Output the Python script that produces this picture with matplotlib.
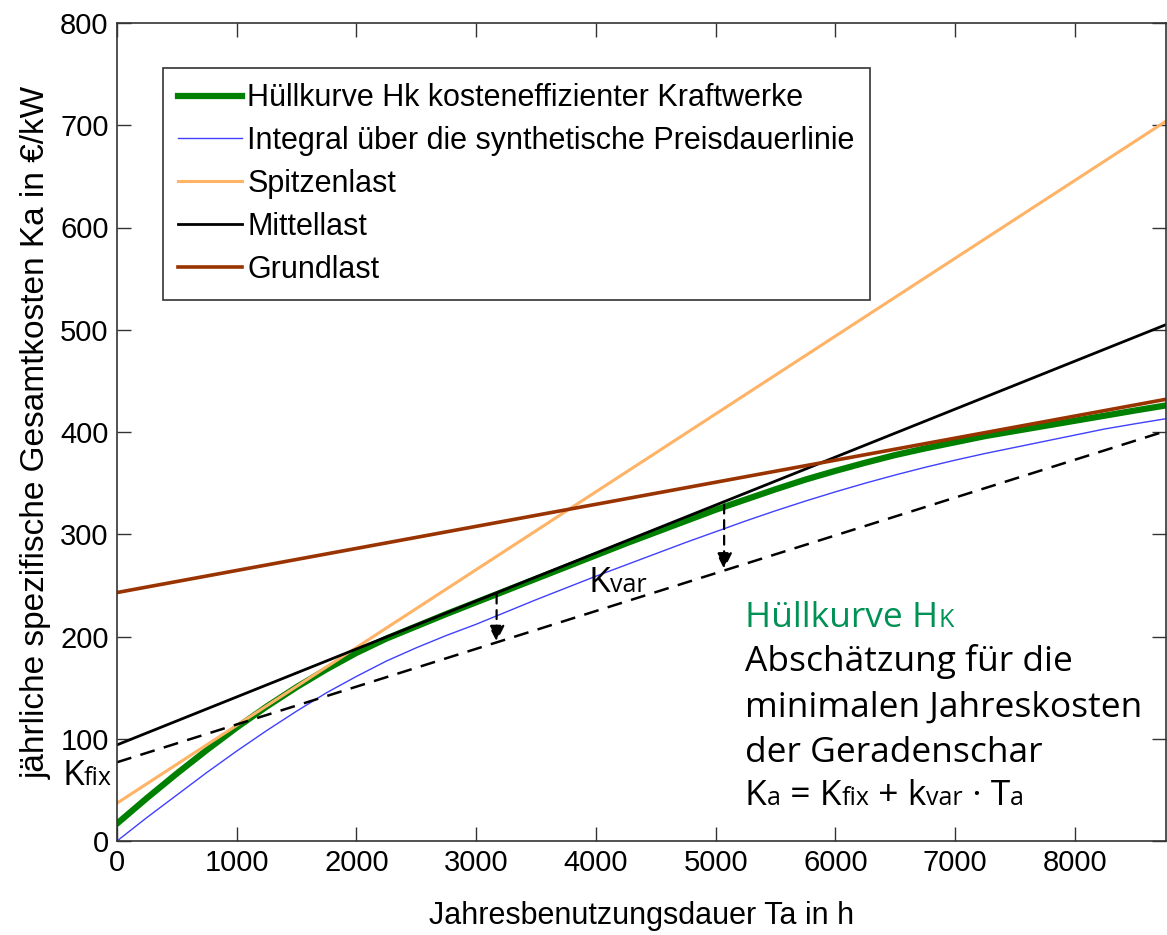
import matplotlib
matplotlib.use("Agg")
import matplotlib.pyplot as plt
import matplotlib.transforms as mtransforms

W, H = 1167, 935
DPI = 100

# ---------------- data ----------------
T_lines = [0, 8760]
spitzenlast = [37, 704]
mittellast = [94, 505]
grundlast = [243, 432]
schar_dashed = [77, 401]

T_curve = [0, 250, 500, 750, 1000, 1250, 1500, 1750, 2000, 2250, 2500, 2750,
           3000, 3250, 3500, 3750, 4000, 4250, 4500, 4750, 5000, 5250, 5500,
           5750, 6000, 6250, 6500, 6750, 7000, 7250, 7500, 7750, 8000, 8250,
           8500, 8760]
huellkurve = [17, 42, 66, 89, 111, 131.5, 150.5, 168, 184, 198, 210, 222,
              233.5, 245, 256.5, 268, 279.5, 291, 302, 313, 324, 334, 344,
              353.5, 362, 370, 377.5, 384, 390, 396, 401, 406, 411, 416,
              421, 426]
integral = [0, 23, 45, 67, 88, 108, 127, 145, 161, 176, 189, 201,
            212, 224, 236, 247.5, 259, 270, 281, 292, 302.5, 313, 323,
            332.5, 341.5, 350, 358, 365.5, 372.5, 379, 385, 391, 397, 403,
            408, 413]

arrow_T = [3170, 5070]
arrow_top = [241, 329]
arrow_tip = [195, 266]

labels = ["Hüllkurve Hk kosteneffizienter Kraftwerke",
          "Integral über die synthetische Preisdauerlinie",
          "Spitzenlast", "Mittellast", "Grundlast"]
xticks = [0, 1000, 2000, 3000, 4000, 5000, 6000, 7000, 8000]
yticks = [0, 100, 200, 300, 400, 500, 600, 700, 800]

# ---------------- figure ----------------
fig = plt.figure(figsize=(W / DPI, H / DPI), dpi=DPI)
ax = fig.add_axes([117 / W, (H - 841) / H, (1166 - 117) / W, (841 - 23) / H])

ax.plot(T_curve, huellkurve, color=(0, 0.5, 0), lw=4.5, label=labels[0])
ax.plot(T_curve, integral, color=(0.25, 0.25, 1.0), lw=1.0, label=labels[1])
ax.plot(T_lines, spitzenlast, color=(1.0, 0.7, 0.4), lw=2.2, label=labels[2])
ax.plot(T_lines, mittellast, color="black", lw=2.0, label=labels[3])
ax.plot(T_lines, grundlast, color=(0.6, 0.2, 0.0), lw=2.6, label=labels[4])
ax.plot(T_lines, schar_dashed, color="black", lw=1.8, ls=(0, (6, 3.8)))

for t, top, tip in zip(arrow_T, arrow_top, arrow_tip):
    ax.annotate("", xy=(t, tip), xytext=(t, top),
                arrowprops=dict(arrowstyle="-|>", color="black", lw=1.6,
                                linestyle=(0, (4, 3)), mutation_scale=24,
                                shrinkA=0, shrinkB=0))

ax.set_xlim(0, 8760)
ax.set_ylim(0, 800)
ax.set_xticks(xticks)
ax.set_yticks(yticks)
tickfont = "Liberation Sans"
ax.tick_params(direction="in", top=True, right=True, length=10, width=1.0,
               labelsize=21, pad=6, color="#333333")
for lab in ax.get_xticklabels() + ax.get_yticklabels():
    lab.set_family(tickfont)
for s in ax.spines.values():
    s.set_color("#333333")
    s.set_linewidth(1.2)

ax.set_xlabel("Jahresbenutzungsdauer Ta in h", fontsize=22, family=tickfont,
              labelpad=17)
ax.set_ylabel("jährliche spezifische Gesamtkosten Ka in €/kW", fontsize=24,
              family=tickfont, labelpad=6)

leg = ax.legend(loc="upper left", bbox_to_anchor=((163 - 117) / 1049, (841 - 68) / 818),
                prop={"family": tickfont, "size": 22}, frameon=True, fancybox=False,
                edgecolor="black", handlelength=2.1, handletextpad=0.16,
                labelspacing=0.42, borderpad=0.5, borderaxespad=0)
leg.get_frame().set_linewidth(1.2)

# ---------------- annotation text (baseline-aligned segments) ----------------
fig.canvas.draw()
renderer = fig.canvas.get_renderer()
ident = mtransforms.IdentityTransform()
annfont = "Open Sans"


def seg_text(x, y_top, segments):
    x_cur = x
    for s, size, color in segments:
        t = fig.text(x_cur, H - y_top, s, fontsize=size, color=color,
                     family=annfont, ha="left", va="baseline", transform=ident)
        bb = t.get_window_extent(renderer)
        x_cur += bb.width


big = 25.5
small = 18
green = (0.0, 0.57, 0.33)
seg_text(745, 627, [("Hüllkurve H", big, green), ("K", small, green)])
seg_text(745, 671, [("Abschätzung für die", big, "black")])
seg_text(745, 717, [("minimalen Jahreskosten", big, "black")])
seg_text(745, 762, [("der Geradenschar", big, "black")])
seg_text(745, 805, [("K", big, "black"), ("a", small, "black"),
                    (" = K", big, "black"), ("fix", small, "black"),
                    (" + k", big, "black"), ("var", small, "black"),
                    (" · T", big, "black"), ("a", small, "black")])
seg_text(588, 592, [("K", big, "black"), ("var", small, "black")])
seg_text(62, 785, [("K", big, "black"), ("fix", small, "black")])

fig.savefig("out.png", dpi=DPI)
